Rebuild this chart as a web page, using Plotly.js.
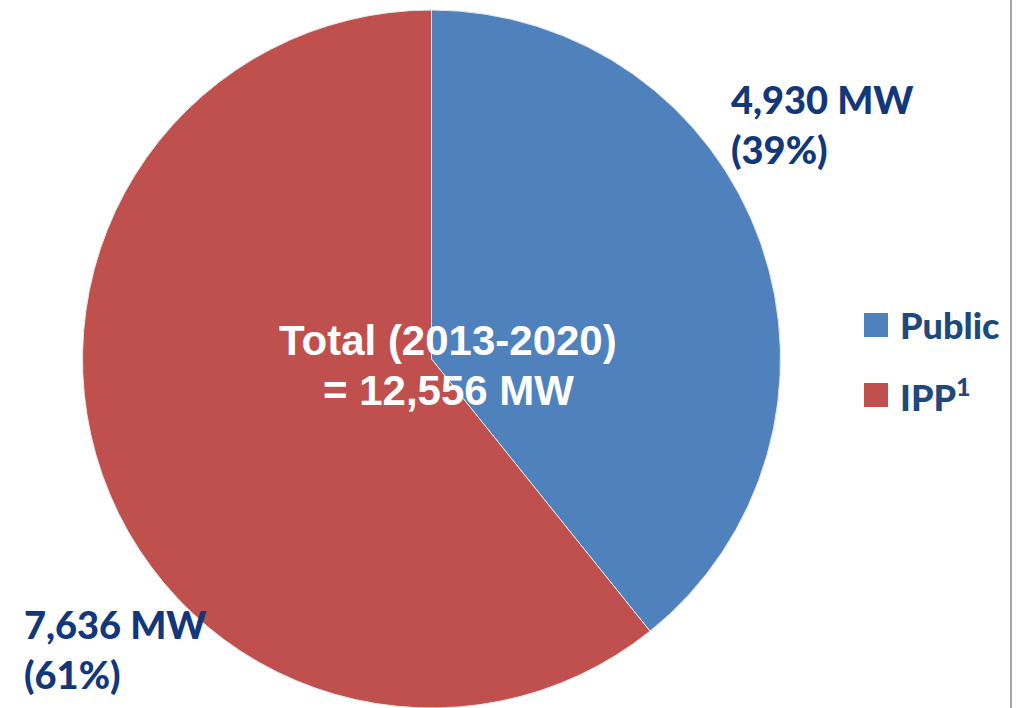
<!DOCTYPE html>
<html>
<head>
<meta charset="utf-8">
<script src="https://cdn.plot.ly/plotly-3.0.1.min.js"></script>
<style>html,body{margin:0;padding:0;background:#fff;}#chart{width:1024px;height:708px;}</style>
</head>
<body>
<div id="chart"></div>
<script>
const categories = ["Public", "IPP"];
const legendLabels = ["Public", "IPP<sup>1</sup>"];
const valuesMW = [4930, 7636];
const sliceLabels = [["4,930 MW", "(39%)"], ["7,636 MW", "(61%)"]];
const totalLines = ["Total (2013-2020)", "= 12,556 MW"];
const colors = ["#4F81BD", "#C0504D"];

const W = 1024, H = 708;
const px = x => x / W;
const py = y => 1 - y / H;

const trace = {
  type: "pie",
  labels: categories,
  values: valuesMW,
  sort: false,
  direction: "clockwise",
  rotation: 0,
  textinfo: "none",
  hoverinfo: "skip",
  showlegend: false,
  marker: { colors: colors, line: { color: "#E8E8E8", width: 1 } },
  domain: { x: [px(82), px(781)], y: [0, py(10)] }
};

const labelFont = { family: "Lato, 'Open Sans', sans-serif", size: 38, color: "#12377A", weight: 900 };
const annotations = [];
// slice labels
const labelPos = [[729, 99, 149], [22, 624, 674]];
sliceLabels.forEach((lines, i) => {
  lines.forEach((t, j) => {
    annotations.push({
      xref: "paper", yref: "paper", x: px(labelPos[i][0]), y: py(labelPos[i][1 + j]),
      xanchor: "left", yanchor: "middle", showarrow: false,
      text: t, font: labelFont
    });
  });
});
// center total
const totalY = [340, 390];
totalLines.forEach((t, j) => {
  annotations.push({
    xref: "paper", yref: "paper", x: px(448), y: py(totalY[j]),
    xanchor: "center", yanchor: "middle", showarrow: false,
    text: "<b>" + t + "</b>",
    font: { family: "'Liberation Sans', Arial, sans-serif", size: 42, color: "#FFFFFF" }
  });
});
// legend
const legY = [325, 395];
const shapes = [];
legendLabels.forEach((t, i) => {
  shapes.push({
    type: "rect", xref: "paper", yref: "paper",
    x0: px(864), x1: px(888), y0: py(legY[i] - 12), y1: py(legY[i] + 12),
    fillcolor: colors[i], line: { width: 0 }
  });
  annotations.push({
    xref: "paper", yref: "paper", x: px(898), y: py(legY[i]),
    xanchor: "left", yanchor: "middle", showarrow: false,
    text: t,
    font: { family: "Lato, 'Open Sans', sans-serif", size: 36, color: "#1F497D", weight: 900 }
  });
});
// right border line
shapes.push({
  type: "line", xref: "paper", yref: "paper", x0: px(1011), x1: px(1011), y0: 0, y1: 1,
  line: { color: "#A6A6A6", width: 2 }
});

const layout = {
  width: W, height: H,
  margin: { l: 0, r: 0, t: 0, b: 0 },
  paper_bgcolor: "#FFFFFF",
  plot_bgcolor: "#FFFFFF",
  showlegend: false,
  annotations: annotations,
  shapes: shapes
};

Plotly.newPlot("chart", [trace], layout, { staticPlot: true, displayModeBar: false });
</script>
</body>
</html>
